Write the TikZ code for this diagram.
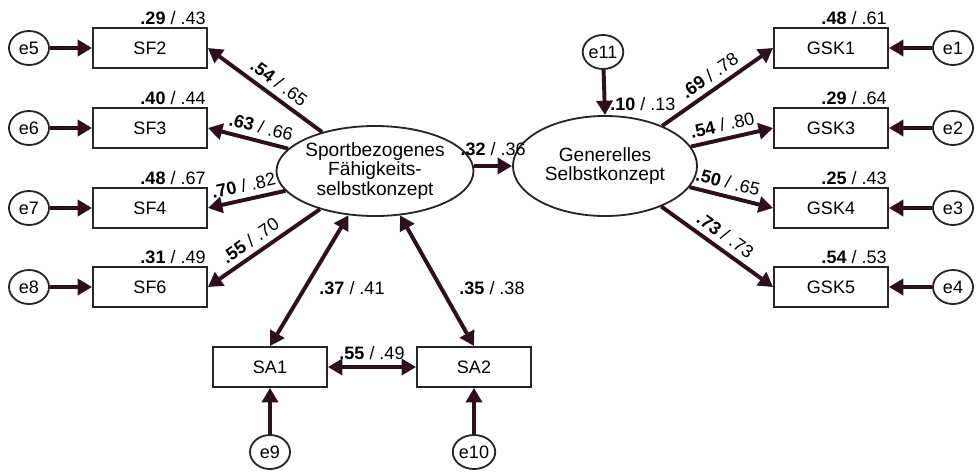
\documentclass[tikz,border=0pt]{standalone}
\usepackage{fontspec}
\setmainfont{Liberation Sans}
\usepackage{xcolor}
\usepackage{tikz}
\usetikzlibrary{shapes,arrows.meta,positioning,calc}
\definecolor{pfeil}{RGB}{45,16,30}
\newcommand{\kw}[2]{\textbf{#1} / #2}

\begin{document}
\begin{tikzpicture}[x=0.025cm, y=-0.025cm,
    font=\fontsize{12.8}{13.6}\selectfont,
    item/.style={draw=black!85, line width=1.3pt, minimum width=2.85cm, minimum height=1cm, inner sep=0pt},
    fehler/.style={ellipse, draw=black!85, line width=1.3pt, minimum width=1cm, minimum height=0.85cm, inner sep=0pt},
    faktor/.style={ellipse, draw=black!85, line width=1.3pt, minimum width=4.6cm, align=center, inner sep=0pt,
        font=\fontsize{13.6}{13.8}\selectfont},
    pfad/.style={draw=pfeil, line width=2.8pt, -{Triangle[length=0.36cm,width=0.4cm]}},
    korr/.style={pfad, {Triangle[length=0.36cm,width=0.4cm]}-{Triangle[length=0.36cm,width=0.4cm]}},
    wert/.style={sloped, above, inner sep=4pt},
    rsq/.style={anchor=south east, inner sep=1.5pt}
]
    \useasboundingbox (0,0) rectangle (976,475);

    % Faktoren
    \node[faktor, minimum height=2.25cm] (Fsk) at (375,171) {Sportbezogenes\\F\"ahigkeits-\\selbstkonzept};
    \node[faktor, minimum height=2.5cm] (Gsk) at (605,166) {Generelles\\Selbstkonzept};

    % Sportbezogene Items links
    \node[item] (SF2) at (150,48) {SF2};
    \node[item] (SF3) at (150,128) {SF3};
    \node[item] (SF4) at (150,208) {SF4};
    \node[item] (SF6) at (150,287) {SF6};
    \node[fehler] (e5) at (29,48) {e5};
    \node[fehler] (e6) at (29,128) {e6};
    \node[fehler] (e7) at (29,208) {e7};
    \node[fehler] (e8) at (29,287) {e8};

    % Generelle Items rechts
    \node[item] (GSK1) at (831,48) {GSK1};
    \node[item] (GSK3) at (831,128) {GSK3};
    \node[item] (GSK4) at (831,208) {GSK4};
    \node[item] (GSK5) at (831,287) {GSK5};
    \node[fehler] (e1) at (953,48) {e1};
    \node[fehler] (e2) at (953,128) {e2};
    \node[fehler] (e3) at (953,208) {e3};
    \node[fehler] (e4) at (953,287) {e4};

    % SA unten
    \node[item] (SA1) at (270,367) {SA1};
    \node[item] (SA2) at (474,367) {SA2};
    \node[fehler] (e9) at (270,452) {e9};
    \node[fehler] (e10) at (474,452) {e10};
    \node[fehler] (e11) at (603,52) {e11};

    % Residuen
    \foreach \e/\i in {e5/SF2, e6/SF3, e7/SF4, e8/SF6}
        \draw[pfad] (\e) -- (\i.west);
    \foreach \e/\i in {e1/GSK1, e2/GSK3, e3/GSK4, e4/GSK5}
        \draw[pfad] (\e) -- (\i.east);
    \draw[pfad] (e9) -- (SA1.south);
    \draw[pfad] (e10) -- (SA2.south);
    \draw[pfad] (e11) -- (Gsk.north);

    % Ladungen
    \draw[pfad] (Fsk) -- (SF2.east) node[wert, pos=0.45] (lSF2) {\kw{.54}{.65}};
    \draw[pfad] (Fsk) -- (SF3.east) node[wert, pos=0.38] (lSF3) {\kw{.63}{.66}};
    \draw[pfad] (Fsk) -- (SF4.east) node[wert, pos=0.5] (lSF4) {\kw{.70}{.82}};
    \draw[pfad] (Fsk) -- (SF6.east) node[wert, pos=0.55] (lSF6) {\kw{.55}{.70}};
    \draw[pfad] (Gsk) -- (GSK1.west) node[wert, pos=0.5] (lGSK1) {\kw{.69}{.78}};
    \draw[pfad] (Gsk) -- (GSK3.west) node[wert, pos=0.42] (lGSK3) {\kw{.54}{.80}};
    \draw[pfad] (Gsk) -- (GSK4.west) node[wert, pos=0.42] (lGSK4) {\kw{.50}{.65}};
    \draw[pfad] (Gsk) -- (GSK5.west) node[wert, pos=0.5] (lGSK5) {\kw{.73}{.73}};

    % Struktur und Korrelationen
    \draw[pfad] (Fsk.east |- Gsk.west) -- (Gsk.west) node[midway, above, inner sep=6pt] (lFG) {\kw{.32}{.36}};
    \draw[korr] (SA1.north) -- (Fsk);
    \draw[korr] (SA2.north) -- (Fsk);
    \draw[korr] (SA1.east) -- (SA2.west) node[midway, above, inner sep=4pt] (lSA) {\kw{.55}{.49}};
    \node (lSA1) at (352,288) {\kw{.37}{.41}};
    \node (lSA2) at (492,288) {\kw{.35}{.38}};

    % Erklaerte Varianz
    \node[rsq] (rSF2) at (SF2.north east) {\kw{.29}{.43}};
    \node[rsq] (rSF3) at (SF3.north east) {\kw{.40}{.44}};
    \node[rsq] (rSF4) at (SF4.north east) {\kw{.48}{.67}};
    \node[rsq] (rSF6) at (SF6.north east) {\kw{.31}{.49}};
    \node[rsq] (rGSK1) at (GSK1.north east) {\kw{.48}{.61}};
    \node[rsq] (rGSK3) at (GSK3.north east) {\kw{.29}{.64}};
    \node[rsq] (rGSK4) at (GSK4.north east) {\kw{.25}{.43}};
    \node[rsq] (rGSK5) at (GSK5.north east) {\kw{.54}{.53}};
    \node[anchor=west, inner sep=0pt] (rGsk) at (610,104) {\kw{.10}{.13}};
\end{tikzpicture}
\end{document}
